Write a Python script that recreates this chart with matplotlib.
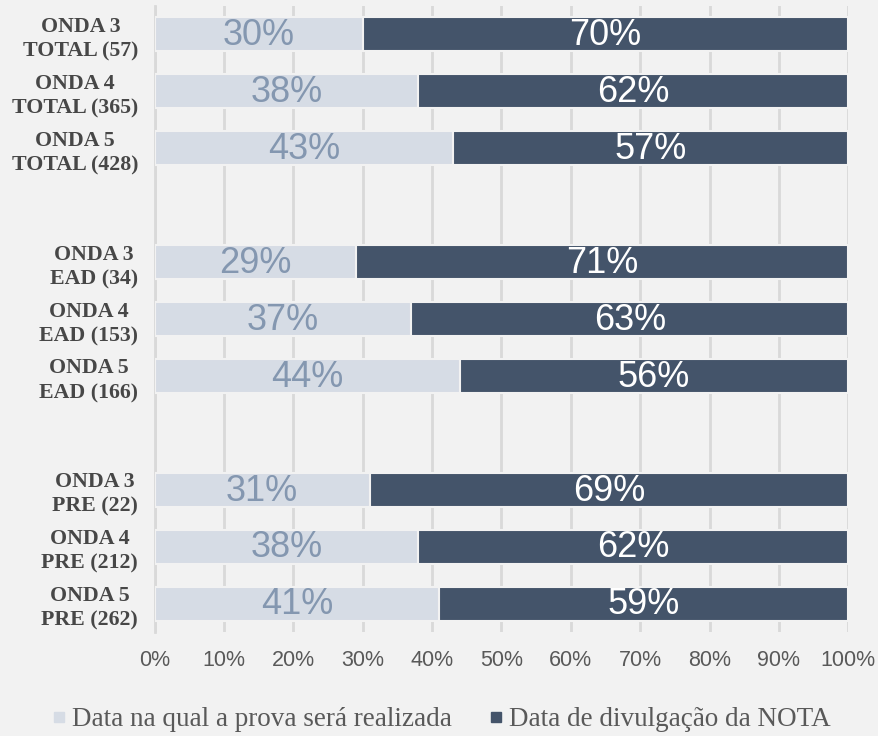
import matplotlib.pyplot as plt
import numpy as np

# categories (top to bottom), blank strings are the spacer rows
categories = ["ONDA 3\nTOTAL (57)", "ONDA 4\nTOTAL (365)", "ONDA 5\nTOTAL (428)", "",
              "ONDA 3\nEAD (34)", "ONDA 4\nEAD (153)", "ONDA 5\nEAD (166)", "",
              "ONDA 3\nPRE (22)", "ONDA 4\nPRE (212)", "ONDA 5\nPRE (262)"]
realizada = [30, 38, 43, None, 29, 37, 44, None, 31, 38, 41]
nota = [70, 62, 57, None, 71, 63, 56, None, 69, 62, 59]
series_names = ["Data na qual a prova será realizada", "Data de divulgação da NOTA"]
xticks = [0, 10, 20, 30, 40, 50, 60, 70, 80, 90, 100]

light = "#D6DCE5"
dark = "#44546A"
bg = "#F2F2F2"

fig = plt.figure(figsize=(8.79, 7.36), dpi=100, facecolor=bg)
ax = fig.add_axes([0.176, 0.141, 0.789, 0.851], facecolor=bg)

y = np.arange(len(categories))
for i in range(len(categories)):
    if realizada[i] is None:
        continue
    a, b = realizada[i], nota[i]
    ax.barh(y[i], a, height=0.6, color=light, edgecolor=bg, linewidth=1.5, zorder=3)
    ax.barh(y[i], b, left=a, height=0.6, color=dark, edgecolor=bg, linewidth=1.5, zorder=3)
    ax.text(a / 2, y[i] + 0.02, f"{a}%", ha="center", va="center", fontsize=26,
            color="#8497B0", family="Liberation Sans", zorder=4)
    ax.text(a + b / 2, y[i] + 0.02, f"{b}%", ha="center", va="center", fontsize=26,
            color="white", family="Liberation Sans", zorder=4)

ax.set_ylim(len(categories) - 0.5, -0.5)
ax.set_xlim(0, 100)
ax.set_yticks(y)
ax.set_yticklabels(categories, fontsize=15.75, fontweight="bold", family="Liberation Serif",
                   color="#474747", ha="right", multialignment="center", linespacing=1.3)
ax.tick_params(axis="y", length=0, pad=12)
ax.set_xticks(xticks)
ax.set_xticklabels([f"{t}%" for t in xticks], fontsize=15.5, family="Liberation Sans", color="#595959")
ax.tick_params(axis="x", length=0, pad=13)
ax.grid(axis="x", color="#D9D9D9", linewidth=2, zorder=0)
for s in ["top", "right", "bottom"]:
    ax.spines[s].set_visible(False)
ax.spines["left"].set_color("#D9D9D9")
ax.spines["left"].set_linewidth(2)

handles = [plt.Line2D([], [], marker="s", linestyle="", markersize=7.5, color=light),
           plt.Line2D([], [], marker="s", linestyle="", markersize=7.5, color=dark)]
fig.legend(handles, series_names, loc="center", bbox_to_anchor=(0.5, 0.022), ncol=2,
           frameon=False, handletextpad=0.1, columnspacing=1.2, handlelength=0.8,
           prop={"family": "Liberation Serif", "size": 19.5}, labelcolor="#595959")

fig.savefig("out.png", dpi=100, facecolor=bg)
